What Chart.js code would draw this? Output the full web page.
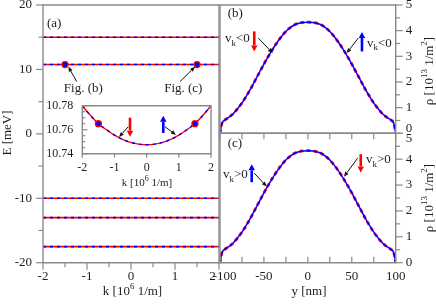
<!DOCTYPE html>
<html><head><meta charset="utf-8">
<script src="https://cdn.jsdelivr.net/npm/chart.js@4"></script>
<style>
html,body{margin:0;padding:0;background:#fff;}
#wrap{position:relative;width:436px;height:304px;overflow:hidden;background:#fff;}
#wrap canvas{position:absolute;left:0;top:0;}
</style></head><body>
<div id="wrap">
<canvas id="cA" width="436" height="304"></canvas>
<canvas id="cB" width="436" height="304"></canvas>
<canvas id="cC" width="436" height="304"></canvas>
<canvas id="cI" width="436" height="304"></canvas>
</div>
<script>
// ---------------- data ----------------
const kRange = [-2, 2];
const levelE = [15, 10.76, -10, -13, -17.5];
const markK = [-1.5, 1.5];
const markE = [10.76, 10.76];

const insetK = [-2, -1.75, -1.5, -1.25, -1, -0.75, -0.5, -0.25, 0, 0.25, 0.5, 0.75, 1, 1.25, 1.5, 1.75, 2];
const insetE = [10.780, 10.772, 10.765, 10.760, 10.7555, 10.752, 10.7495, 10.748, 10.7475, 10.748, 10.7495, 10.752, 10.7555, 10.760, 10.765, 10.772, 10.780];
const insetMarkK = [-1.5, 1.5];
const insetMarkE = [10.765, 10.765];

const yNm = [-100, -99, -98, -97, -96, -94, -90, -85, -80, -75, -70, -65, -60, -55, -50, -45, -40, -35, -30, -25, -20, -15, -10, -5, 0,
             5, 10, 15, 20, 25, 30, 35, 40, 45, 50, 55, 60, 65, 70, 75, 80, 85, 90, 94, 96, 97, 98, 99, 100];
const rhoB = [0, 0.20, 0.36, 0.44, 0.48, 0.53, 0.62, 0.76, 0.96, 1.18, 1.45, 1.74, 2.06, 2.38, 2.70, 3.00, 3.28, 3.54, 3.77, 3.97, 4.12, 4.23, 4.29, 4.32, 4.33,
              4.32, 4.29, 4.23, 4.12, 3.97, 3.77, 3.54, 3.28, 3.00, 2.70, 2.38, 2.06, 1.74, 1.45, 1.18, 0.96, 0.76, 0.62, 0.53, 0.48, 0.44, 0.36, 0.20, 0];
const rhoC = [0, 0.20, 0.36, 0.44, 0.48, 0.53, 0.62, 0.76, 0.96, 1.18, 1.45, 1.74, 2.06, 2.38, 2.70, 3.00, 3.28, 3.54, 3.77, 3.97, 4.12, 4.23, 4.29, 4.32, 4.33,
              4.32, 4.29, 4.23, 4.12, 3.97, 3.77, 3.54, 3.28, 3.00, 2.70, 2.38, 2.06, 1.74, 1.45, 1.18, 0.96, 0.76, 0.62, 0.53, 0.48, 0.44, 0.36, 0.20, 0];

const kTicks = [-2, -1, 0, 1, 2];
const kTickLabels = ['-2', '-1', '0', '1', '2\u2003'];
const kMinor = [-1.5, -0.5, 0.5, 1.5];
const eTicks = [-20, -10, 0, 10, 20];
const eTickLabels = ['-20', '-10', '0', '10', '20'];
const eMinor = [-15, -5, 5, 15];
const insetETicks = [10.74, 10.76, 10.78];
const insetETickLabels = ['10.74', '10.76', '10.78'];
const insetEMinor = [10.745, 10.75, 10.755, 10.765, 10.77, 10.775];
const insetKTickLabels = ['-2', '-1', '0', '1', '2'];
const yTicks = [-100, -50, 0, 50, 100];
const yTickLabels = ['\u2002\u2009-100', '-50', '0', '50', '100'];
const yMinor = [-100, -75, -50, -25, 0, 25, 50, 75, 100];
const rhoTicks = [0, 1, 2, 3, 4, 5];
const rhoTickLabelsB = [['0', ''], '1', '2', '3', '4', '5'];
const rhoTickLabelsC = ['0', '1', '2', '3', '4', ['', '5']];
const rhoMinor = [0.5, 1.5, 2.5, 3.5, 4.5];

// ---------------- style ----------------
const W = 436, H = 304;
const SERIF = "'Liberation Serif','Times New Roman',serif";
const AX = '#8a8a8a', TXT = '#1e1e1e', RED = '#ff0000', BLUE = '#0000ff';
Chart.defaults.font.family = SERIF;

function pts(xs, ys) { return xs.map((x, i) => ({x: x, y: ys[i]})); }

function drawRich(c, segs, x, y, o) {
  const size = o.size || 13, small = Math.round(size * 0.7);
  c.save();
  c.translate(x, y);
  if (o.rotate) c.rotate(-Math.PI / 2);
  c.textBaseline = 'alphabetic'; c.textAlign = 'left'; c.fillStyle = o.color || TXT;
  let w = 0;
  const parts = segs.map(s => {
    const t = s[0], k = s[1] || '';
    const f = (k ? small : size) + 'px ' + SERIF;
    c.font = f;
    const mw = c.measureText(t).width;
    const p = {t, k, f, x: w};
    w += mw; return p;
  });
  const x0 = o.align === 'center' ? -w / 2 : (o.align === 'right' ? -w : 0);
  parts.forEach(p => {
    c.font = p.f;
    const dy = p.k === 'sup' ? -size * 0.42 : (p.k === 'sub' ? size * 0.3 : 0);
    c.fillText(p.t, x0 + p.x, dy);
  });
  c.restore();
}

function drawArrow(c, x1, y1, x2, y2, o) {
  const ang = Math.atan2(y2 - y1, x2 - x1), hl = o.head, hw = o.headW;
  const bx = x2 - hl * Math.cos(ang), by = y2 - hl * Math.sin(ang);
  c.save();
  c.strokeStyle = o.color; c.fillStyle = o.color; c.lineWidth = o.lw;
  c.beginPath(); c.moveTo(x1, y1); c.lineTo(bx, by); c.stroke();
  c.beginPath(); c.moveTo(x2, y2);
  c.lineTo(bx + hw / 2 * Math.sin(ang), by - hw / 2 * Math.cos(ang));
  c.lineTo(bx - hw / 2 * Math.sin(ang), by + hw / 2 * Math.cos(ang));
  c.closePath(); c.fill();
  c.restore();
}

const decorPlugin = {
  id: 'decor',
  beforeDatasetsDraw(chart, args, o) {
    if (!o.bg) return;
    const a = chart.chartArea, c = chart.ctx;
    c.save(); c.fillStyle = '#fff'; c.fillRect(a.left, a.top, a.right - a.left, a.bottom - a.top); c.restore();
  },
  afterDraw(chart, args, o) {
    const c = chart.ctx, a = chart.chartArea, sx = chart.scales.x, sy = chart.scales.y;
    c.save();
    c.strokeStyle = AX; c.lineWidth = 1.4; c.lineCap = 'butt';
    (o.sides || []).forEach(side => {
      c.beginPath();
      if (side === 'left') { c.moveTo(a.left, a.top - 0.7); c.lineTo(a.left, a.bottom + 0.7); }
      if (side === 'right') { c.moveTo(a.right, a.top - 0.7); c.lineTo(a.right, a.bottom + 0.7); }
      if (side === 'top') { c.moveTo(a.left, a.top); c.lineTo(a.right, a.top); }
      if (side === 'bottom') { c.moveTo(a.left, a.bottom); c.lineTo(a.right, a.bottom); }
      c.stroke();
    });
    c.lineWidth = 1.2;
    (o.ticks || []).forEach(t => {
      const horiz = (t.side === 'top' || t.side === 'bottom');
      const s = horiz ? sx : sy;
      t.values.forEach(v => {
        const p = s.getPixelForValue(v);
        c.beginPath();
        if (t.side === 'bottom') { const d = t.inward ? -t.len : t.len; c.moveTo(p, a.bottom); c.lineTo(p, a.bottom + d); }
        if (t.side === 'top') { const d = t.inward ? t.len : -t.len; c.moveTo(p, a.top); c.lineTo(p, a.top + d); }
        if (t.side === 'left') { const d = t.inward ? t.len : -t.len; c.moveTo(a.left, p); c.lineTo(a.left + d, p); }
        if (t.side === 'right') { const d = t.inward ? -t.len : t.len; c.moveTo(a.right, p); c.lineTo(a.right + d, p); }
        c.stroke();
      });
    });
    (o.arrows || []).forEach(ar => {
      drawArrow(c, sx.getPixelForValue(ar.x1), sy.getPixelForValue(ar.y1),
                sx.getPixelForValue(ar.x2), sy.getPixelForValue(ar.y2), ar);
    });
    (o.texts || []).forEach(t => {
      const x = t.px != null ? t.px : sx.getPixelForValue(t.x);
      const y = t.py != null ? t.py : sy.getPixelForValue(t.y);
      drawRich(c, t.segs, x, y, t);
    });
    c.restore();
  }
};

function tickFont(size, lh) { return {family: SERIF, size: size, lineHeight: lh || 1.2}; }

function linScale(min, max, values, labels, o) {
  return {
    type: 'linear', min: min, max: max, position: o.position,
    afterBuildTicks: s => { s.ticks = values.map(v => ({value: v})); },
    afterFit: s => {
      if (o.width != null) s.width = o.width;
      if (o.height != null) s.height = o.height;
      s.paddingTop = 0; s.paddingBottom = 0; s.paddingLeft = 0; s.paddingRight = 0;
    },
    grid: {display: false, drawTicks: false},
    border: {display: false},
    ticks: {
      display: o.showLabels !== false,
      autoSkip: false, maxRotation: 0, minRotation: 0,
      padding: o.pad, color: TXT, font: tickFont(o.size || 13, o.lh),
      callback: (v, i) => labels[i]
    }
  };
}

function baseOptions(padding, scales, decor) {
  return {
    responsive: false, animation: false, devicePixelRatio: 1, events: [],
    layout: {padding: padding, autoPadding: false},
    scales: scales,
    plugins: {legend: {display: false}, tooltip: {enabled: false}, decor: decor}
  };
}

const BIG = {lw: 2.6, head: 6, headW: 6.5};
const THIN = {color: '#111', lw: 1, head: 5, headW: 4};
const vk = (op) => [['v'], ['k', 'sub'], [op + '0']];

// ---------------- panel (a) ----------------
const dsA = [{
  data: pts(markK, markE), showLine: false, pointRadius: 3, pointBackgroundColor: BLUE,
  pointBorderColor: RED, pointBorderWidth: 1.3
}];
levelE.forEach(e => {
  dsA.push({data: pts(kRange, [e, e]), borderColor: BLUE, borderWidth: 1.6, borderDash: [3, 4], pointRadius: 0, fill: false});
  dsA.push({data: pts(kRange, [e, e]), borderColor: RED, borderWidth: 1.6, pointRadius: 0, fill: false});
});
new Chart(document.getElementById('cA'), {
  type: 'line',
  data: {datasets: dsA},
  options: baseOptions({left: 0, top: 5, right: W - 219, bottom: 0}, {
    x: linScale(-2, 2, kTicks, kTickLabels, {position: 'bottom', height: H - 262.7, pad: 6}),
    y: linScale(-20, 20, eTicks, eTickLabels, {position: 'left', width: 43, pad: 11})
  }, {
    sides: ['left', 'top', 'bottom', 'right'],
    ticks: [
      {side: 'left', values: eTicks, len: 7}, {side: 'left', values: eMinor, len: 4.5},
      {side: 'bottom', values: kTicks, len: 7}, {side: 'bottom', values: kMinor, len: 4.5}
    ],
    arrows: [
      Object.assign({x1: -1.234, y1: 8.11, x2: -1.425, y2: 10.44}, THIN),
      Object.assign({x1: 1.114, y1: 8.11, x2: 1.455, y2: 10.42}, THIN)
    ],
    texts: [
      {x: -1.909, y: 16.51, segs: [['(a)']], align: 'left'},
      {x: -1.084, y: 6.57, segs: [['Fig. (b)']], align: 'center'},
      {x: 1.189, y: 6.57, segs: [['Fig. (c)']], align: 'center'},
      {px: 10.5, py: 133, segs: [['E [meV]']], align: 'center', rotate: true},
      {px: 132.5, py: 294.5, segs: [['k [10'], ['6', 'sup'], [' 1/m]']], align: 'center'}
    ]
  })
  , plugins: [decorPlugin]
});

// ---------------- inset ----------------
new Chart(document.getElementById('cI'), {
  type: 'line',
  data: {datasets: [
    {data: pts(insetMarkK, insetMarkE), showLine: false, pointRadius: 3, pointBackgroundColor: BLUE, pointBorderColor: RED, pointBorderWidth: 1.3},
    {data: pts(insetK, insetE), borderColor: BLUE, borderWidth: 1.4, borderDash: [3, 4], pointRadius: 0, fill: false, cubicInterpolationMode: 'monotone'},
    {data: pts(insetK, insetE), borderColor: RED, borderWidth: 1.4, pointRadius: 0, fill: false, cubicInterpolationMode: 'monotone'}
  ]},
  options: baseOptions({left: 0, top: 105.7, right: W - 211, bottom: 0}, {
    x: linScale(-2, 2, kTicks, insetKTickLabels, {position: 'bottom', height: H - 153.7, pad: 7, size: 12}),
    y: linScale(10.74, 10.78, insetETicks, insetETickLabels, {position: 'left', width: 82.3, pad: 9, size: 12})
  }, {
    bg: true,
    sides: ['left', 'top', 'bottom', 'right'],
    ticks: [
      {side: 'left', values: insetETicks, len: 5, inward: true}, {side: 'left', values: insetEMinor, len: 3, inward: true},
      {side: 'bottom', values: kTicks, len: 4}
    ],
    arrows: [
      Object.assign({x1: -0.517, y1: 10.770, x2: -0.517, y2: 10.7542, color: RED}, BIG),
      Object.assign({x1: 0.517, y1: 10.7573, x2: 0.517, y2: 10.7717, color: BLUE}, BIG),
      Object.assign({x1: -0.57, y1: 10.7625, x2: -0.86, y2: 10.7539}, THIN),
      Object.assign({x1: 0.57, y1: 10.7625, x2: 0.91, y2: 10.7556}, THIN)
    ],
    texts: [
      {px: 147, py: 186, size: 11, segs: [['k [10'], ['6', 'sup'], [' 1/m]']], align: 'center'}
    ]
  }),
  plugins: [decorPlugin]
});

// ---------------- panels (b), (c) ----------------
function densitySets(rho) {
  return [
    {data: pts(yNm, rho), borderColor: BLUE, borderWidth: 1.5, pointRadius: 0, fill: false, cubicInterpolationMode: 'monotone'},
    {data: pts(yNm, rho), borderColor: RED, borderWidth: 2.8, borderDash: [4, 3], pointRadius: 0, fill: false, cubicInterpolationMode: 'monotone'}
  ];
}
const rhoTitle = [['\u03C1 [10'], ['13', 'sup'], [' 1/m'], ['2', 'sup'], [']']];

new Chart(document.getElementById('cB'), {
  type: 'line',
  data: {datasets: densitySets(rhoB)},
  options: baseOptions({left: 220, top: 5, right: 0, bottom: H - 133.3}, {
    x: linScale(-100, 100, yTicks, yTickLabels, {position: 'bottom', height: 0, pad: 6, showLabels: false}),
    y: linScale(0, 5, rhoTicks, rhoTickLabelsB, {position: 'right', width: W - 395.7, pad: 10, lh: 0.77})
  }, {
    sides: ['left', 'top', 'bottom', 'right'],
    ticks: [
      {side: 'right', values: rhoTicks, len: 7}, {side: 'right', values: rhoMinor, len: 4.5}
    ],
    arrows: [
      Object.assign({x1: -61, y1: 3.97, x2: -61, y2: 3.19, color: RED}, BIG),
      Object.assign({x1: -56.4, y1: 3.71, x2: -40, y2: 3.125}, THIN),
      Object.assign({x1: 61.6, y1: 3.19, x2: 61.6, y2: 3.95, color: BLUE}, BIG),
      Object.assign({x1: 57.4, y1: 3.71, x2: 44.2, y2: 3.125}, THIN)
    ],
    texts: [
      {x: -91.2, y: 4.52, segs: [['(b)']], align: 'left'},
      {x: -94.3, y: 3.55, segs: vk('<'), align: 'left'},
      {x: 67.3, y: 3.38, segs: vk('<'), align: 'left'},
      {px: 432.5, py: 71, segs: rhoTitle, align: 'center', rotate: true}
    ]
  }),
  plugins: [decorPlugin]
});

new Chart(document.getElementById('cC'), {
  type: 'line',
  data: {datasets: densitySets(rhoC)},
  options: baseOptions({left: 220, top: 133.3, right: 0, bottom: 0}, {
    x: linScale(-100, 100, yTicks, yTickLabels, {position: 'bottom', height: H - 262.7, pad: 6}),
    y: linScale(0, 5, rhoTicks, rhoTickLabelsC, {position: 'right', width: W - 395.7, pad: 10, lh: 0.77})
  }, {
    sides: ['left', 'top', 'bottom', 'right'],
    ticks: [
      {side: 'right', values: rhoTicks, len: 7}, {side: 'right', values: rhoMinor, len: 4.5},
      {side: 'bottom', values: yMinor, len: 6, inward: true},
      {side: 'top', values: yMinor, len: 6, inward: true}
    ],
    arrows: [
      Object.assign({x1: -63.9, y1: 3.11, x2: -63.9, y2: 3.80, color: BLUE}, BIG),
      Object.assign({x1: -61, y1: 3.46, x2: -46.8, y2: 2.94}, THIN),
      Object.assign({x1: 60.2, y1: 4.19, x2: 60.2, y2: 3.49, color: RED}, BIG),
      Object.assign({x1: 56.7, y1: 4.04, x2: 41.1, y2: 3.32}, THIN)
    ],
    texts: [
      {x: -91.2, y: 4.48, segs: [['(c)']], align: 'left'},
      {x: -96.6, y: 3.27, segs: vk('>'), align: 'left'},
      {x: 66.2, y: 3.84, segs: vk('>'), align: 'left'},
      {px: 432.5, py: 198, segs: rhoTitle, align: 'center', rotate: true},
      {px: 309, py: 294.5, segs: [['y [nm]']], align: 'center'}
    ]
  }),
  plugins: [decorPlugin]
});
</script>
</body></html>
